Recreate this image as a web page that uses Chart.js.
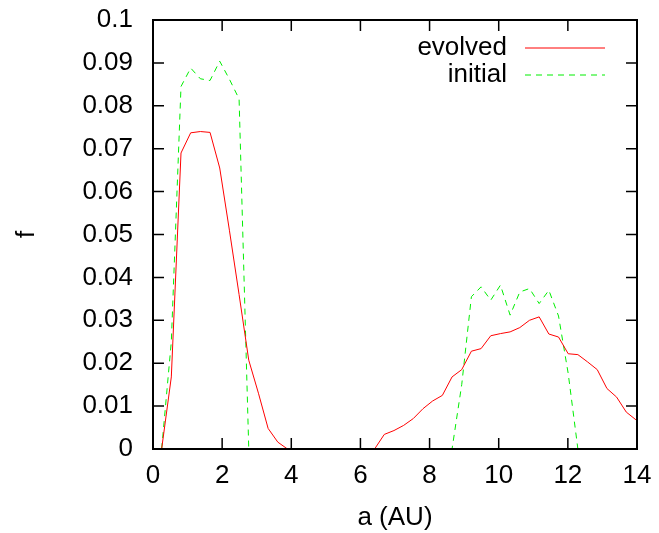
<!DOCTYPE html>
<html>
<head>
<meta charset="utf-8">
<script src="https://cdn.jsdelivr.net/npm/chart.js@4/dist/chart.umd.min.js"></script>
<style>
  body { margin: 0; background: #fff; }
  #c { display: block; }
</style>
</head>
<body>
<canvas id="c" width="659" height="533"></canvas>
<script>
// semi-major axis bin positions (AU)
const aValues = [
  0.25, 0.53, 0.81, 1.09, 1.37, 1.65, 1.93, 2.21, 2.49, 2.77,
  3.05, 3.33, 3.61, 3.89, 4.17, 4.45, 4.73, 5.01, 5.29, 5.57,
  5.85, 6.13, 6.41, 6.69, 6.97, 7.25, 7.53, 7.81, 8.09, 8.37,
  8.65, 8.93, 9.21, 9.49, 9.77, 10.05, 10.33, 10.61, 10.89, 11.17,
  11.45, 11.73, 12.01, 12.29, 12.57, 12.85, 13.13, 13.41, 13.69, 13.97
];

const evolved = [
  0, 0.0168, 0.069, 0.0737, 0.0740, 0.0738, 0.0655, 0.051, 0.036, 0.0207,
  0.013, 0.0048, 0.0016, 0, 0, 0, 0, 0, 0, 0,
  0, 0, 0, 0.0034, 0.0043, 0.0055, 0.0071, 0.0094, 0.0112, 0.0125,
  0.0168, 0.0185, 0.0228, 0.0234, 0.0264, 0.0269, 0.0273, 0.0283, 0.0300, 0.0308,
  0.0268, 0.0261, 0.0222, 0.0220, 0.0203, 0.0185, 0.0141, 0.0121, 0.0086, 0.0068
];

const initial = [
  0, 0.025, 0.0845, 0.0888, 0.0863, 0.0859, 0.0904, 0.0862, 0.0816, 0,
  0, 0, 0, 0, 0, 0, 0, 0, 0, 0,
  0, 0, 0, 0, 0, 0, 0, 0, 0, 0,
  0, 0.015, 0.0355, 0.0378, 0.0347, 0.0382, 0.0312, 0.0366, 0.0374, 0.0339,
  0.0370, 0.0310, 0.0176, 0, 0, 0, 0, 0, 0, 0
];

const xTicks = [0, 2, 4, 6, 8, 10, 12, 14];
const yTicks = [0, 0.01, 0.02, 0.03, 0.04, 0.05, 0.06, 0.07, 0.08, 0.09, 0.1];

const FONT = "'Liberation Sans', Arial, Helvetica, sans-serif";
const FONT_SIZE = 26;

const toPoints = (ys) => ys.map((y, i) => ({ x: aValues[i], y: y }));

// gnuplot style frame: border plus inward ticks on all four sides
const framePlugin = {
  id: "frame",
  afterDatasetsDraw(chart) {
    const { ctx, chartArea: a, scales } = chart;
    const len = 11;
    ctx.save();
    ctx.strokeStyle = "#000";
    ctx.lineWidth = 1.5;
    ctx.beginPath();
    xTicks.forEach((t) => {
      const px = scales.x.getPixelForValue(t);
      ctx.moveTo(px, a.bottom);
      ctx.lineTo(px, a.bottom - len);
      ctx.moveTo(px, a.top);
      ctx.lineTo(px, a.top + len);
    });
    yTicks.forEach((t) => {
      const py = scales.y.getPixelForValue(t);
      ctx.moveTo(a.left, py);
      ctx.lineTo(a.left + len, py);
      ctx.moveTo(a.right, py);
      ctx.lineTo(a.right - len, py);
    });
    ctx.stroke();
    ctx.lineWidth = 2;
    ctx.strokeRect(a.left, a.top, a.right - a.left, a.bottom - a.top);
    ctx.restore();
  },
};

// key in the top right corner, text before the line sample
const keyPlugin = {
  id: "key",
  afterDraw(chart) {
    const { ctx, chartArea: a } = chart;
    ctx.save();
    ctx.font = FONT_SIZE + "px " + FONT;
    ctx.textAlign = "right";
    ctx.textBaseline = "middle";
    chart.data.datasets.forEach((ds, i) => {
      const y = a.top + 28 + i * 27;
      ctx.fillStyle = "#000";
      ctx.fillText(ds.label, a.right - 130, y);
      ctx.strokeStyle = ds.borderColor;
      ctx.lineWidth = 1;
      ctx.setLineDash(ds.borderDash || []);
      ctx.beginPath();
      ctx.moveTo(a.right - 112, y);
      ctx.lineTo(a.right - 32, y);
      ctx.stroke();
    });
    ctx.restore();
  },
};

new Chart(document.getElementById("c"), {
  type: "line",
  data: {
    datasets: [
      {
        label: "evolved",
        data: toPoints(evolved),
        borderColor: "#ff0000",
        borderWidth: 1,
        pointRadius: 0,
        tension: 0,
      },
      {
        label: "initial",
        data: toPoints(initial),
        borderColor: "#00ee00",
        borderWidth: 1,
        borderDash: [6, 5],
        pointRadius: 0,
        tension: 0,
      },
    ],
  },
  options: {
    responsive: false,
    animation: false,
    layout: { padding: { top: 20, right: 22, left: 0, bottom: 0 } },
    plugins: {
      legend: { display: false },
      tooltip: { enabled: false },
    },
    scales: {
      x: {
        type: "linear",
        min: 0,
        max: 14,
        afterFit(s) {
          s.height = 84;
          s.paddingLeft = 0;
          s.paddingRight = 0;
        },
        afterBuildTicks(s) { s.ticks = xTicks.map((v) => ({ value: v })); },
        grid: { display: false, drawTicks: false },
        border: { display: false },
        ticks: {
          color: "#000",
          padding: 11,
          maxRotation: 0,
          font: { family: FONT, size: FONT_SIZE },
        },
        title: {
          display: true,
          text: "a (AU)",
          color: "#000",
          padding: { top: 0, bottom: 0 },
          font: { family: FONT, size: FONT_SIZE },
        },
      },
      y: {
        type: "linear",
        min: 0,
        max: 0.1,
        afterFit(s) {
          s.width = 153;
          s.paddingTop = 0;
          s.paddingBottom = 0;
        },
        afterBuildTicks(s) { s.ticks = yTicks.map((v) => ({ value: v })); },
        grid: { display: false, drawTicks: false },
        border: { display: false },
        ticks: {
          color: "#000",
          padding: 20,
          font: { family: FONT, size: FONT_SIZE },
          callback: (v) => String(Math.round(v * 100) / 100),
        },
        title: {
          display: true,
          text: "f",
          color: "#000",
          padding: { top: 11, bottom: 0 },
          font: { family: FONT, size: FONT_SIZE },
        },
      },
    },
  },
  plugins: [framePlugin, keyPlugin],
});
</script>
</body>
</html>
